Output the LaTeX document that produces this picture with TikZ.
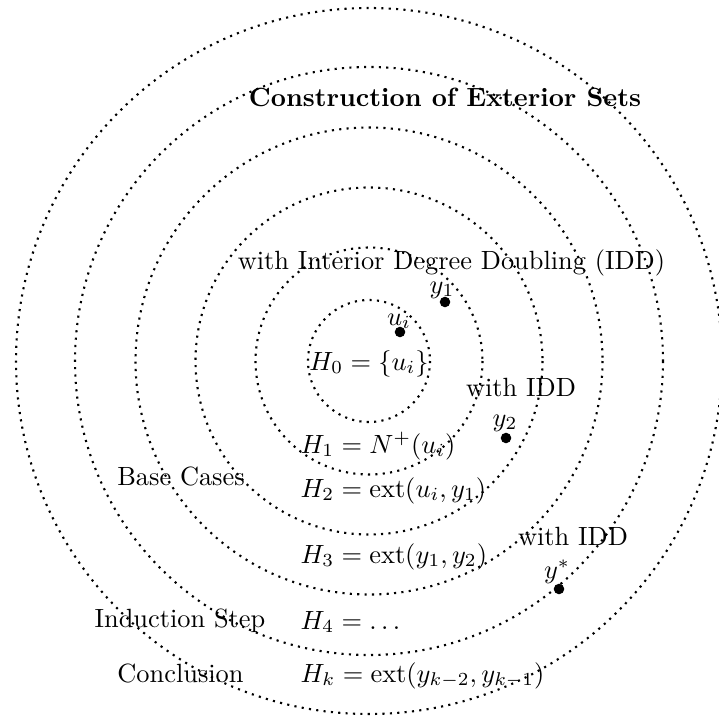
\documentclass[tikz,border=0pt]{standalone}
\begin{document}
\begin{tikzpicture}[x=0.37922pt,y=-0.37922pt,
  ring/.style={draw, thick, dotted},
  dotnode/.style={circle, fill, inner sep=0pt, minimum size=4pt},
  txt/.style={inner sep=0pt, anchor=base},
  hset/.style={inner sep=0pt, anchor=base west}]
\useasboundingbox (0,0) rectangle (718,721);
\coordinate (O) at (369,361);
\foreach \r in {61,113.5,173.5,233.5,294,353}
  \draw[ring] (O) circle (\r);
% titles
\node[txt, font=\bfseries] (title) at (445,107) {Construction of Exterior Sets};
\node[txt] (idda) at (451.5,269) {with Interior Degree Doubling (IDD)};
\node[txt] (iddb) at (521,396) {with IDD};
\node[txt] (iddc) at (573,545) {with IDD};
% sets
\node[txt] (h0) at (369,370) {$H_0 = \{u_i\}$};
\node[hset] (h1) at (300,453) {$H_1 = N^+(u_i)$};
\node[hset] (h2) at (300,497) {$H_2 = \mathrm{ext}(u_i, y_1)$};
\node[hset] (h3) at (300,563) {$H_3 = \mathrm{ext}(y_1, y_2)$};
\node[hset] (h4) at (300,629) {$H_4 = \dots$};
\node[hset] (hk) at (300,682) {$H_k = \mathrm{ext}(y_{k-2}, y_{k-1})$};
% side labels
\node[txt] (base) at (181,485) {Base Cases};
\node[txt] (ind) at (180,627) {Induction Step};
\node[txt] (conc) at (180.5,682) {Conclusion};
% points
\node[dotnode] (ui) at (400,332) {};
\node[txt] (uil) at (399,325) {$u_i$};
\node[dotnode] (ya) at (445,302) {};
\node[txt] (yal) at (442,293) {$y_1$};
\node[dotnode] (yb) at (506,438) {};
\node[txt] (ybl) at (505,426) {$y_2$};
\node[dotnode] (ys) at (559,589) {};
\node[txt] (ysl) at (557,578) {$y^*$};
\end{tikzpicture}
\end{document}
